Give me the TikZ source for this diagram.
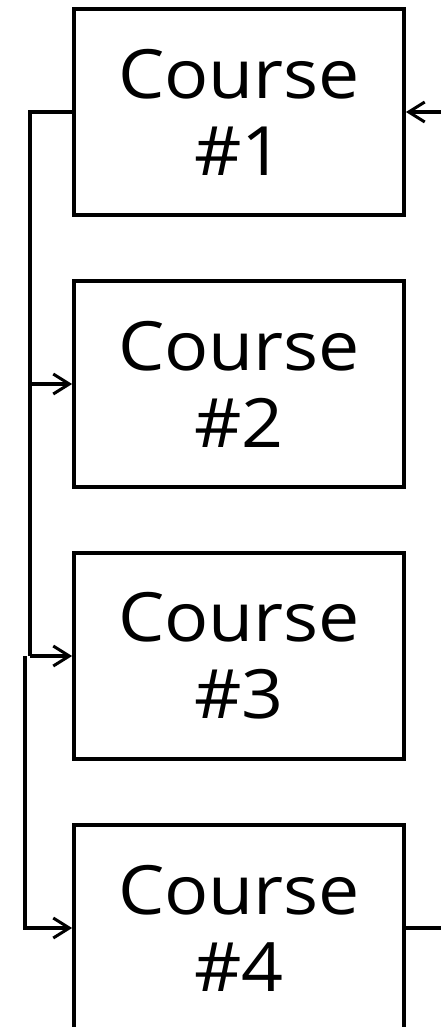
\documentclass[tikz,border=0pt]{standalone}
\usepackage{fontspec}
\setmainfont{Open Sans}[FakeStretch=1.08]
\usetikzlibrary{arrows.meta}
\begin{document}
\begin{tikzpicture}[x=1pt,y=-1pt,
  coursebox/.style={draw=black, line width=3.8pt, fill=white, minimum width=330pt, minimum height=206pt,
    inner sep=0pt, align=center, font=\fontsize{68}{77}\selectfont},
  link/.style={draw=black, line width=3.5pt},
  arr/.style={link, -{Straight Barb[length=16pt,width=20pt,line width=3pt]}}]
\useasboundingbox (0,0) rectangle (441,1027);
\node[coursebox] (c1) at (239,112) {Course\\\#1};
\node[coursebox] (c2) at (239,384) {Course\\\#2};
\node[coursebox] (c3) at (239,656) {Course\\\#3};
\node[coursebox] (c4) at (239,928) {Course\\\#4};
\coordinate (inR) at (441,112);
\coordinate (outR) at (441,928);
\coordinate (trunk) at (30,0);
\coordinate (trunkB) at (25,656);
\draw[link] (c1.west) -- (trunk |- c1.west) -- (trunk |- c3.west);
\draw[arr] (trunk |- c2.west) -- (c2.west);
\draw[arr] (trunk |- c3.west) -- (c3.west);
\draw[arr] (trunkB) -- (trunkB |- c4.west) -- (c4.west);
\draw[arr] (inR) -- (c1.east);
\draw[link] (c4.east) -- (outR);
\end{tikzpicture}
\end{document}
